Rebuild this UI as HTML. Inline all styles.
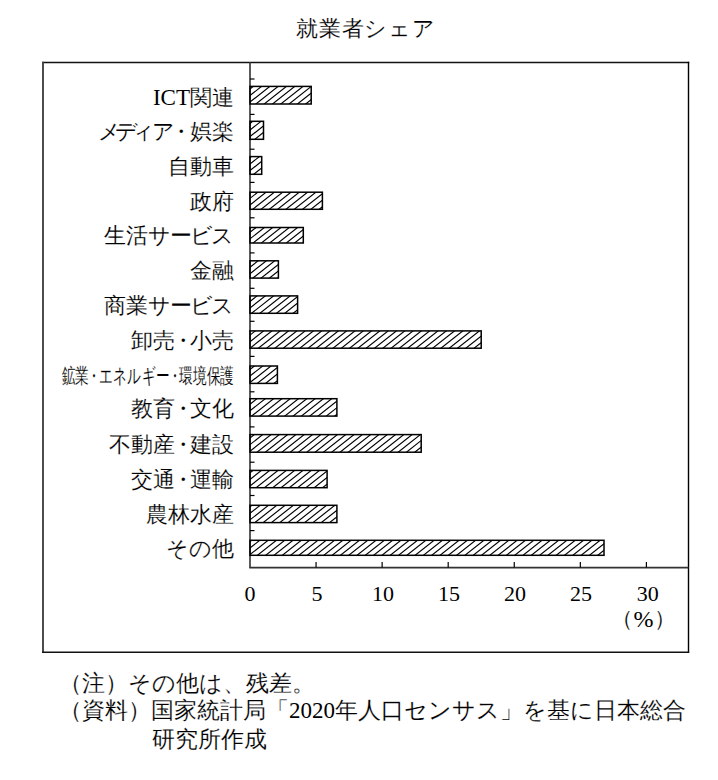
<!DOCTYPE html>
<html lang="ja"><head><meta charset="utf-8"><style>
html,body{margin:0;padding:0;background:#fff;}
body{width:718px;height:780px;position:relative;overflow:hidden;font-family:"Liberation Serif",serif;color:#000;}
.t{position:absolute;white-space:nowrap;line-height:1;}
.lab{position:absolute;right:484px;white-space:nowrap;line-height:1;font-size:21.5px;text-align:right;-webkit-text-stroke:0.15px #fff;}
.lat{font-size:23px;-webkit-text-stroke:0;}
.cj{-webkit-text-stroke:0.15px #fff;}
.d{margin-left:-3px;margin-right:-3.5px;}
.d2{margin-left:-3px;margin-right:-3px;}
.xl{position:absolute;white-space:nowrap;line-height:1;font-size:22px;transform:translateX(-50%);}
</style></head><body>

<svg width="718" height="780" style="position:absolute;left:0;top:0">
<defs><clipPath id="c0"><rect x="250" y="86.4" width="61.20" height="17.60"/></clipPath><clipPath id="c1"><rect x="250" y="121.3" width="13.50" height="18.00"/></clipPath><clipPath id="c2"><rect x="250" y="156.6" width="11.70" height="17.70"/></clipPath><clipPath id="c3"><rect x="250" y="192.2" width="72.40" height="17.10"/></clipPath><clipPath id="c4"><rect x="250" y="227.5" width="53.30" height="15.50"/></clipPath><clipPath id="c5"><rect x="250" y="260.8" width="28.40" height="17.30"/></clipPath><clipPath id="c6"><rect x="250" y="295.9" width="47.60" height="17.40"/></clipPath><clipPath id="c7"><rect x="250" y="330.9" width="231.20" height="17.30"/></clipPath><clipPath id="c8"><rect x="250" y="366" width="27.40" height="17.40"/></clipPath><clipPath id="c9"><rect x="250" y="398.7" width="86.90" height="17.40"/></clipPath><clipPath id="c10"><rect x="250" y="434.6" width="171.20" height="17.60"/></clipPath><clipPath id="c11"><rect x="250" y="470.4" width="77.10" height="17.30"/></clipPath><clipPath id="c12"><rect x="250" y="505.3" width="86.90" height="17.30"/></clipPath><clipPath id="c13"><rect x="250" y="540.3" width="354.00" height="15.00"/></clipPath></defs>
<line x1="42" y1="62.5" x2="689.2" y2="62.5" stroke="#111" stroke-width="1.4"/>
<line x1="43" y1="61.8" x2="43" y2="652.9" stroke="#444" stroke-width="1.9"/>
<line x1="688.5" y1="61.8" x2="688.5" y2="652.9" stroke="#000" stroke-width="1.4"/>
<line x1="42" y1="652.2" x2="689.2" y2="652.2" stroke="#111" stroke-width="1.4"/>
<line x1="250" y1="62" x2="250" y2="567.6" stroke="#333" stroke-width="1.6"/>
<line x1="249.2" y1="567.6" x2="688.5" y2="567.6" stroke="#333" stroke-width="1.6"/>
<line x1="250" y1="79" x2="254.5" y2="79" stroke="#000" stroke-width="1.2"/>
<line x1="250" y1="114.4" x2="254.5" y2="114.4" stroke="#000" stroke-width="1.2"/>
<line x1="250" y1="149.2" x2="254.5" y2="149.2" stroke="#000" stroke-width="1.2"/>
<line x1="250" y1="182.4" x2="254.5" y2="182.4" stroke="#000" stroke-width="1.2"/>
<line x1="250" y1="217.8" x2="254.5" y2="217.8" stroke="#000" stroke-width="1.2"/>
<line x1="250" y1="252.9" x2="254.5" y2="252.9" stroke="#000" stroke-width="1.2"/>
<line x1="250" y1="288.3" x2="254.5" y2="288.3" stroke="#000" stroke-width="1.2"/>
<line x1="250" y1="321.3" x2="254.5" y2="321.3" stroke="#000" stroke-width="1.2"/>
<line x1="250" y1="356.4" x2="254.5" y2="356.4" stroke="#000" stroke-width="1.2"/>
<line x1="250" y1="391.8" x2="254.5" y2="391.8" stroke="#000" stroke-width="1.2"/>
<line x1="250" y1="426.9" x2="254.5" y2="426.9" stroke="#000" stroke-width="1.2"/>
<line x1="250" y1="462.2" x2="254.5" y2="462.2" stroke="#000" stroke-width="1.2"/>
<line x1="250" y1="495.5" x2="254.5" y2="495.5" stroke="#000" stroke-width="1.2"/>
<line x1="250" y1="530.6" x2="254.5" y2="530.6" stroke="#000" stroke-width="1.2"/>
<line x1="316.06" y1="562" x2="316.06" y2="567.6" stroke="#000" stroke-width="1.2"/>
<line x1="382.13" y1="562" x2="382.13" y2="567.6" stroke="#000" stroke-width="1.2"/>
<line x1="448.19" y1="562" x2="448.19" y2="567.6" stroke="#000" stroke-width="1.2"/>
<line x1="514.26" y1="562" x2="514.26" y2="567.6" stroke="#000" stroke-width="1.2"/>
<line x1="580.33" y1="562" x2="580.33" y2="567.6" stroke="#000" stroke-width="1.2"/>
<line x1="646.39" y1="562" x2="646.39" y2="567.6" stroke="#000" stroke-width="1.2"/>
<path clip-path="url(#c0)" d="M230.88,84.40L203.54,106.00M239.18,84.40L211.84,106.00M247.48,84.40L220.14,106.00M255.78,84.40L228.44,106.00M264.08,84.40L236.74,106.00M272.38,84.40L245.04,106.00M280.68,84.40L253.34,106.00M288.98,84.40L261.64,106.00M297.28,84.40L269.94,106.00M305.58,84.40L278.24,106.00M313.88,84.40L286.54,106.00M322.18,84.40L294.84,106.00M330.48,84.40L303.14,106.00M338.78,84.40L311.44,106.00M347.08,84.40L319.74,106.00" stroke="#000" stroke-width="1.15" fill="none"/>
<rect x="250" y="86.4" width="61.20" height="17.60" fill="none" stroke="#000" stroke-width="1.5"/>
<path clip-path="url(#c1)" d="M230.38,119.30L202.53,141.30M238.68,119.30L210.83,141.30M246.98,119.30L219.13,141.30M255.28,119.30L227.43,141.30M263.58,119.30L235.73,141.30M271.88,119.30L244.03,141.30M280.18,119.30L252.33,141.30M288.48,119.30L260.63,141.30M296.78,119.30L268.93,141.30" stroke="#000" stroke-width="1.15" fill="none"/>
<rect x="250" y="121.3" width="13.50" height="18.00" fill="none" stroke="#000" stroke-width="1.5"/>
<path clip-path="url(#c2)" d="M237.03,154.60L209.56,176.30M245.33,154.60L217.86,176.30M253.63,154.60L226.16,176.30M261.93,154.60L234.46,176.30M270.23,154.60L242.76,176.30M278.53,154.60L251.06,176.30M286.83,154.60L259.36,176.30M295.13,154.60L267.66,176.30" stroke="#000" stroke-width="1.15" fill="none"/>
<rect x="250" y="156.6" width="11.70" height="17.70" fill="none" stroke="#000" stroke-width="1.5"/>
<path clip-path="url(#c3)" d="M235.43,190.20L208.72,211.30M243.73,190.20L217.02,211.30M252.03,190.20L225.32,211.30M260.33,190.20L233.62,211.30M268.63,190.20L241.92,211.30M276.93,190.20L250.22,211.30M285.23,190.20L258.52,211.30M293.53,190.20L266.82,211.30M301.83,190.20L275.12,211.30M310.13,190.20L283.42,211.30M318.43,190.20L291.72,211.30M326.73,190.20L300.02,211.30M335.03,190.20L308.32,211.30M343.33,190.20L316.62,211.30M351.63,190.20L324.92,211.30M359.93,190.20L333.22,211.30" stroke="#000" stroke-width="1.15" fill="none"/>
<rect x="250" y="192.2" width="72.40" height="17.10" fill="none" stroke="#000" stroke-width="1.5"/>
<path clip-path="url(#c4)" d="M233.73,225.50L209.05,245.00M242.03,225.50L217.35,245.00M250.33,225.50L225.65,245.00M258.63,225.50L233.95,245.00M266.93,225.50L242.25,245.00M275.23,225.50L250.55,245.00M283.53,225.50L258.85,245.00M291.83,225.50L267.15,245.00M300.13,225.50L275.45,245.00M308.43,225.50L283.75,245.00M316.73,225.50L292.05,245.00M325.03,225.50L300.35,245.00M333.33,225.50L308.65,245.00" stroke="#000" stroke-width="1.15" fill="none"/>
<rect x="250" y="227.5" width="53.30" height="15.50" fill="none" stroke="#000" stroke-width="1.5"/>
<path clip-path="url(#c5)" d="M235.73,258.80L208.77,280.10M244.03,258.80L217.07,280.10M252.33,258.80L225.37,280.10M260.63,258.80L233.67,280.10M268.93,258.80L241.97,280.10M277.23,258.80L250.27,280.10M285.53,258.80L258.57,280.10M293.83,258.80L266.87,280.10M302.13,258.80L275.17,280.10M310.43,258.80L283.47,280.10" stroke="#000" stroke-width="1.15" fill="none"/>
<rect x="250" y="260.8" width="28.40" height="17.30" fill="none" stroke="#000" stroke-width="1.5"/>
<path clip-path="url(#c6)" d="M234.63,293.90L207.54,315.30M242.93,293.90L215.84,315.30M251.23,293.90L224.14,315.30M259.53,293.90L232.44,315.30M267.83,293.90L240.74,315.30M276.13,293.90L249.04,315.30M284.43,293.90L257.34,315.30M292.73,293.90L265.64,315.30M301.03,293.90L273.94,315.30M309.33,293.90L282.24,315.30M317.63,293.90L290.54,315.30M325.93,293.90L298.84,315.30M334.23,293.90L307.14,315.30" stroke="#000" stroke-width="1.15" fill="none"/>
<rect x="250" y="295.9" width="47.60" height="17.40" fill="none" stroke="#000" stroke-width="1.5"/>
<path clip-path="url(#c7)" d="M232.98,328.90L206.02,350.20M241.28,328.90L214.32,350.20M249.58,328.90L222.62,350.20M257.88,328.90L230.92,350.20M266.18,328.90L239.22,350.20M274.48,328.90L247.52,350.20M282.78,328.90L255.82,350.20M291.08,328.90L264.12,350.20M299.38,328.90L272.42,350.20M307.68,328.90L280.72,350.20M315.98,328.90L289.02,350.20M324.28,328.90L297.32,350.20M332.58,328.90L305.62,350.20M340.88,328.90L313.92,350.20M349.18,328.90L322.22,350.20M357.48,328.90L330.52,350.20M365.78,328.90L338.82,350.20M374.08,328.90L347.12,350.20M382.38,328.90L355.42,350.20M390.68,328.90L363.72,350.20M398.98,328.90L372.02,350.20M407.28,328.90L380.32,350.20M415.58,328.90L388.62,350.20M423.88,328.90L396.92,350.20M432.18,328.90L405.22,350.20M440.48,328.90L413.52,350.20M448.78,328.90L421.82,350.20M457.08,328.90L430.12,350.20M465.38,328.90L438.42,350.20M473.68,328.90L446.72,350.20M481.98,328.90L455.02,350.20M490.28,328.90L463.32,350.20M498.58,328.90L471.62,350.20M506.88,328.90L479.92,350.20M515.18,328.90L488.22,350.20" stroke="#000" stroke-width="1.15" fill="none"/>
<rect x="250" y="330.9" width="231.20" height="17.30" fill="none" stroke="#000" stroke-width="1.5"/>
<path clip-path="url(#c8)" d="M232.03,364.00L204.94,385.40M240.33,364.00L213.24,385.40M248.63,364.00L221.54,385.40M256.93,364.00L229.84,385.40M265.23,364.00L238.14,385.40M273.53,364.00L246.44,385.40M281.83,364.00L254.74,385.40M290.13,364.00L263.04,385.40M298.43,364.00L271.34,385.40M306.73,364.00L279.64,385.40M315.03,364.00L287.94,385.40" stroke="#000" stroke-width="1.15" fill="none"/>
<rect x="250" y="366" width="27.40" height="17.40" fill="none" stroke="#000" stroke-width="1.5"/>
<path clip-path="url(#c9)" d="M234.63,396.70L207.54,418.10M242.93,396.70L215.84,418.10M251.23,396.70L224.14,418.10M259.53,396.70L232.44,418.10M267.83,396.70L240.74,418.10M276.13,396.70L249.04,418.10M284.43,396.70L257.34,418.10M292.73,396.70L265.64,418.10M301.03,396.70L273.94,418.10M309.33,396.70L282.24,418.10M317.63,396.70L290.54,418.10M325.93,396.70L298.84,418.10M334.23,396.70L307.14,418.10M342.53,396.70L315.44,418.10M350.83,396.70L323.74,418.10M359.13,396.70L332.04,418.10M367.43,396.70L340.34,418.10" stroke="#000" stroke-width="1.15" fill="none"/>
<rect x="250" y="398.7" width="86.90" height="17.40" fill="none" stroke="#000" stroke-width="1.5"/>
<path clip-path="url(#c10)" d="M232.03,432.60L204.69,454.20M240.33,432.60L212.99,454.20M248.63,432.60L221.29,454.20M256.93,432.60L229.59,454.20M265.23,432.60L237.89,454.20M273.53,432.60L246.19,454.20M281.83,432.60L254.49,454.20M290.13,432.60L262.79,454.20M298.43,432.60L271.09,454.20M306.73,432.60L279.39,454.20M315.03,432.60L287.69,454.20M323.33,432.60L295.99,454.20M331.63,432.60L304.29,454.20M339.93,432.60L312.59,454.20M348.23,432.60L320.89,454.20M356.53,432.60L329.19,454.20M364.83,432.60L337.49,454.20M373.13,432.60L345.79,454.20M381.43,432.60L354.09,454.20M389.73,432.60L362.39,454.20M398.03,432.60L370.69,454.20M406.33,432.60L378.99,454.20M414.63,432.60L387.29,454.20M422.93,432.60L395.59,454.20M431.23,432.60L403.89,454.20M439.53,432.60L412.19,454.20M447.83,432.60L420.49,454.20M456.13,432.60L428.79,454.20" stroke="#000" stroke-width="1.15" fill="none"/>
<rect x="250" y="434.6" width="171.20" height="17.60" fill="none" stroke="#000" stroke-width="1.5"/>
<path clip-path="url(#c11)" d="M230.78,468.40L203.82,489.70M239.08,468.40L212.12,489.70M247.38,468.40L220.42,489.70M255.68,468.40L228.72,489.70M263.98,468.40L237.02,489.70M272.28,468.40L245.32,489.70M280.58,468.40L253.62,489.70M288.88,468.40L261.92,489.70M297.18,468.40L270.22,489.70M305.48,468.40L278.52,489.70M313.78,468.40L286.82,489.70M322.08,468.40L295.12,489.70M330.38,468.40L303.42,489.70M338.68,468.40L311.72,489.70M346.98,468.40L320.02,489.70M355.28,468.40L328.32,489.70M363.58,468.40L336.62,489.70" stroke="#000" stroke-width="1.15" fill="none"/>
<rect x="250" y="470.4" width="77.10" height="17.30" fill="none" stroke="#000" stroke-width="1.5"/>
<path clip-path="url(#c12)" d="M237.78,503.30L210.82,524.60M246.08,503.30L219.12,524.60M254.38,503.30L227.42,524.60M262.68,503.30L235.72,524.60M270.98,503.30L244.02,524.60M279.28,503.30L252.32,524.60M287.58,503.30L260.62,524.60M295.88,503.30L268.92,524.60M304.18,503.30L277.22,524.60M312.48,503.30L285.52,524.60M320.78,503.30L293.82,524.60M329.08,503.30L302.12,524.60M337.38,503.30L310.42,524.60M345.68,503.30L318.72,524.60M353.98,503.30L327.02,524.60M362.28,503.30L335.32,524.60M370.58,503.30L343.62,524.60" stroke="#000" stroke-width="1.15" fill="none"/>
<rect x="250" y="505.3" width="86.90" height="17.30" fill="none" stroke="#000" stroke-width="1.5"/>
<path clip-path="url(#c13)" d="M237.43,538.30L213.38,557.30M245.73,538.30L221.68,557.30M254.03,538.30L229.98,557.30M262.33,538.30L238.28,557.30M270.63,538.30L246.58,557.30M278.93,538.30L254.88,557.30M287.23,538.30L263.18,557.30M295.53,538.30L271.48,557.30M303.83,538.30L279.78,557.30M312.13,538.30L288.08,557.30M320.43,538.30L296.38,557.30M328.73,538.30L304.68,557.30M337.03,538.30L312.98,557.30M345.33,538.30L321.28,557.30M353.63,538.30L329.58,557.30M361.93,538.30L337.88,557.30M370.23,538.30L346.18,557.30M378.53,538.30L354.48,557.30M386.83,538.30L362.78,557.30M395.13,538.30L371.08,557.30M403.43,538.30L379.38,557.30M411.73,538.30L387.68,557.30M420.03,538.30L395.98,557.30M428.33,538.30L404.28,557.30M436.63,538.30L412.58,557.30M444.93,538.30L420.88,557.30M453.23,538.30L429.18,557.30M461.53,538.30L437.48,557.30M469.83,538.30L445.78,557.30M478.13,538.30L454.08,557.30M486.43,538.30L462.38,557.30M494.73,538.30L470.68,557.30M503.03,538.30L478.98,557.30M511.33,538.30L487.28,557.30M519.63,538.30L495.58,557.30M527.93,538.30L503.88,557.30M536.23,538.30L512.18,557.30M544.53,538.30L520.48,557.30M552.83,538.30L528.78,557.30M561.13,538.30L537.08,557.30M569.43,538.30L545.38,557.30M577.73,538.30L553.68,557.30M586.03,538.30L561.98,557.30M594.33,538.30L570.28,557.30M602.63,538.30L578.58,557.30M610.93,538.30L586.88,557.30M619.23,538.30L595.18,557.30M627.53,538.30L603.48,557.30M635.83,538.30L611.78,557.30" stroke="#000" stroke-width="1.15" fill="none"/>
<rect x="250" y="540.3" width="354.00" height="15.00" fill="none" stroke="#000" stroke-width="1.5"/>
</svg>
<div class="t cj" style="left:296px;top:17.5px;font-size:22px;letter-spacing:0.8px">就業者シェア</div>
<div class="lab" style="top:86.4px"><span class="lat">ICT</span>関連</div>
<div class="lab" style="top:121.5px"><span style="margin-right:-6px">メ</span><span style="margin-right:-4px">デ</span><span style="margin-left:-2px;margin-right:-2.5px">ィ</span>ア<span style="margin-left:-5px;margin-right:-2px">・</span>娯楽</div>
<div class="lab" style="top:156.6px">自動車</div>
<div class="lab" style="top:191.9px">政府</div>
<div class="lab" style="top:226.4px">生活<span style="letter-spacing:-1.8px">サービ</span>ス</div>
<div class="lab" style="top:260.7px">金融</div>
<div class="lab" style="top:295.8px">商業<span style="letter-spacing:-1.8px">サービ</span>ス</div>
<div class="lab" style="top:330.7px">卸売<span class="d">・</span>小売</div>
<div class="lab" style="top:366.1px;font-size:20.5px;transform:scaleX(0.65);transform-origin:right center">鉱業<span class="d2">・</span>エネルギー<span class="d2">・</span>環境保護</div>
<div class="lab" style="top:398.6px">教育<span class="d">・</span>文化</div>
<div class="lab" style="top:434.6px">不動産<span class="d">・</span>建設</div>
<div class="lab" style="top:470.2px">交通<span class="d">・</span>運輸</div>
<div class="lab" style="top:505.2px">農林水産</div>
<div class="lab" style="top:539.0px">その他</div>
<div class="xl" style="left:250.0px;top:583px">0</div>
<div class="xl" style="left:316.9px;top:583px">5</div>
<div class="xl" style="left:382.9px;top:583px">10</div>
<div class="xl" style="left:449.0px;top:583px">15</div>
<div class="xl" style="left:515.1px;top:583px">20</div>
<div class="xl" style="left:581.1px;top:583px">25</div>
<div class="xl" style="left:647.7px;top:583px">30</div>
<div class="t cj" style="left:611px;top:607px;font-size:22px;letter-spacing:0.5px">（<span class="lat" style="font-size:24px;vertical-align:-1px">%</span>）</div>
<div class="t cj" style="left:59px;top:672px;font-size:23px">（注）その他は、残差。</div>
<div class="t cj" style="left:59px;top:699px;font-size:23px">（資料）国家統計局「<span class="lat" style="font-size:23px">2020</span>年人口センサス」を基に日本総合</div>
<div class="t cj" style="left:152px;top:728px;font-size:23px">研究所作成</div>
</body></html>
